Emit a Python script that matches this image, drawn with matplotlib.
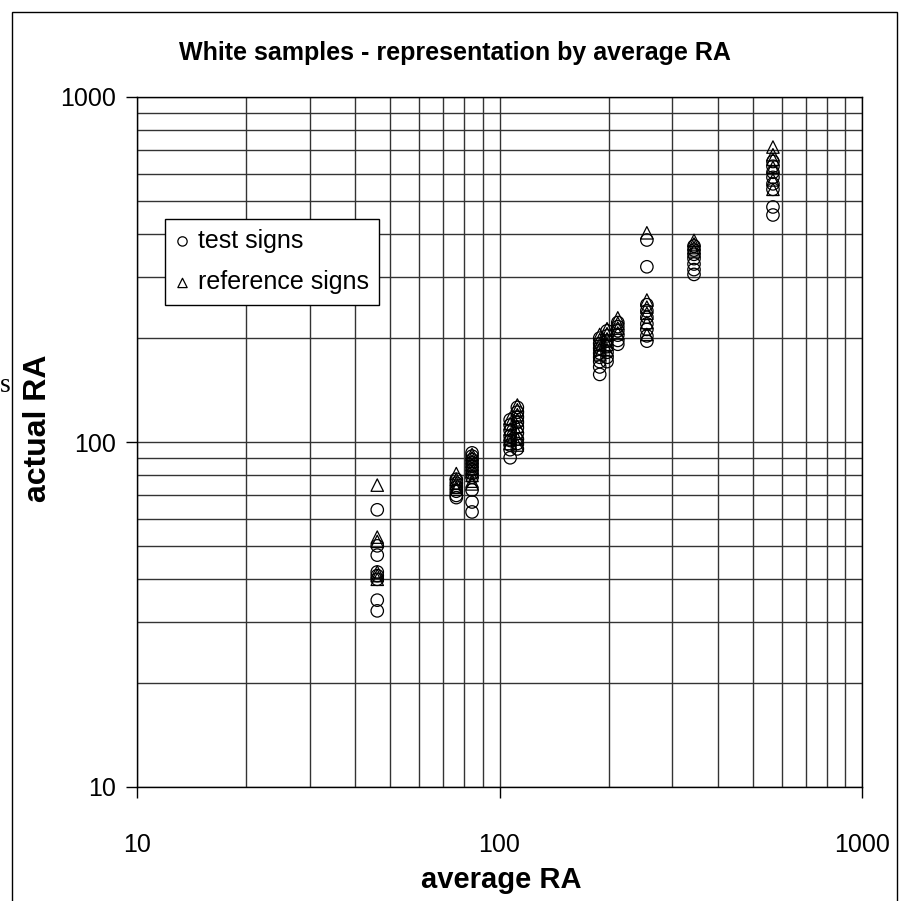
import matplotlib
matplotlib.use("Agg")
import matplotlib.pyplot as plt
from matplotlib.patches import Rectangle
from matplotlib.ticker import LogLocator, NullFormatter, FixedLocator

plt.rcParams['font.family'] = ['Liberation Sans', 'DejaVu Sans']

# average RA per sample group (x) and the actual RA readings (y)
test_x = ([46] * 8 + [76] * 6 + [84] * 11 + [107] * 8 + [112] * 9
          + [189] * 8 + [198] * 7 + [212] * 6 + [255] * 9 + [344] * 7 + [568] * 8)
test_y = [63.6, 50, 47, 42, 41, 40, 34.8, 32.4,
          78, 76, 74, 72, 70, 69,
          93, 91, 89, 87, 85, 83, 81, 79, 72.6, 67, 62.7,
          116, 112, 108, 104, 101, 98, 95, 90,
          126, 122, 118, 114, 110, 106, 102, 99, 95.5,
          200, 193, 187, 181, 176, 171, 165, 157,
          210, 203, 196, 189, 182, 176, 171,
          222, 216, 210, 204, 197, 192,
          385, 322, 250, 240, 230, 220, 212, 203, 196,
          370, 360, 350, 340, 328, 316, 306,
          650, 630, 605, 585, 560, 540, 480, 455]

ref_x = ([46] * 6 + [76] * 5 + [84] * 9 + [107] * 6 + [112] * 8
         + [189] * 5 + [198] * 5 + [212] * 4 + [255] * 6 + [344] * 4 + [568] * 6)
ref_y = [75, 53, 51.5, 42, 41, 40,
         81, 78, 76, 74, 73,
         92, 90, 88, 86, 84, 82, 80, 77, 75.6,
         117, 113, 109, 105, 102, 99,
         128, 124, 120, 116, 111, 106, 102, 98,
         205, 198, 192, 186, 180,
         213, 206, 199, 192, 185,
         229, 221, 214, 207,
         404, 258, 246, 236, 222, 205,
         384, 375, 366, 358,
         716, 680, 660, 625, 575, 540]

fig = plt.figure(figsize=(9.01, 9.01), dpi=100)
ax = fig.add_axes([137 / 901, 1 - 787 / 901, 725 / 901, 690 / 901])

ax.scatter(test_x, test_y, marker='o', s=80, facecolors='none',
           edgecolors='black', linewidths=0.9, label='test signs', zorder=3)
ax.scatter(ref_x, ref_y, marker='^', s=80, facecolors='none',
           edgecolors='black', linewidths=0.9, label='reference signs', zorder=3)

ax.set_xscale('log')
ax.set_yscale('log')
ax.set_xlim(10, 1000)
ax.set_ylim(10, 1000)

ax.xaxis.set_major_locator(FixedLocator([10, 100, 1000]))
ax.yaxis.set_major_locator(FixedLocator([10, 100, 1000]))
ax.xaxis.set_minor_locator(LogLocator(base=10, subs=range(2, 10)))
ax.yaxis.set_minor_locator(LogLocator(base=10, subs=range(2, 10)))
ax.xaxis.set_minor_formatter(NullFormatter())
ax.yaxis.set_minor_formatter(NullFormatter())
ax.set_xticklabels(['10', '100', '1000'])
ax.set_yticklabels(['10', '100', '1000'])

ax.grid(True, which='both', color='#333333', linewidth=1.0)
ax.set_axisbelow(True)
ax.tick_params(which='major', direction='out', length=8, width=1.0,
               labelsize=18)
ax.tick_params(axis='x', which='major', pad=25)
ax.tick_params(axis='y', which='major', pad=7)
ax.tick_params(which='minor', length=0)
for sp in ax.spines.values():
    sp.set_linewidth(1.0)

fig.text(455 / 901, 1 - 53 / 901,
         'White samples - representation by average RA',
         ha='center', va='center', fontsize=18, fontweight='bold')
fig.text(501 / 901, 1 - 880 / 901, 'average RA', ha='center', va='center',
         fontsize=21, fontweight='bold')
fig.text(38 / 901, 1 - 428 / 901, 'actual RA', ha='center', va='center',
         rotation=90, fontsize=23, fontweight='bold')
fig.text(5 / 901, 1 - 385 / 901, 's', ha='center', va='center',
         fontsize=20, family='Liberation Serif')

leg = ax.legend(loc='upper left', bbox_to_anchor=((165 - 137) / 725, (787 - 219) / 690),
                fontsize=18, frameon=True, fancybox=False, edgecolor='black',
                framealpha=1, borderpad=0.4, labelspacing=0.7, handletextpad=0.3,
                handlelength=0.6, markerscale=0.75, borderaxespad=0)
leg.get_frame().set_linewidth(1.0)

# outer chart border
fig.patches.append(Rectangle((12 / 901, -0.01), 885 / 901, 1 - 12 / 901 + 0.01,
                             transform=fig.transFigure, fill=False,
                             edgecolor='black', linewidth=1.0))

fig.savefig('out.png', dpi=100)
